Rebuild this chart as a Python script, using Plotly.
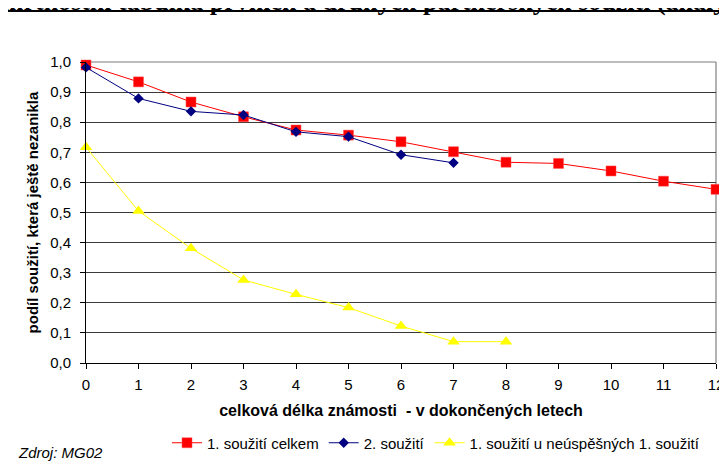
import plotly.graph_objects as go

# ---- data ----
years_total = [0, 1, 2, 3, 4, 5, 6, 7, 8, 9, 10, 11, 12]
first_total = [0.99, 0.934, 0.867, 0.818, 0.774, 0.757, 0.735, 0.702, 0.667, 0.663, 0.638, 0.604, 0.577]

years_second = [0, 1, 2, 3, 4, 5, 6, 7]
second_union = [0.982, 0.879, 0.836, 0.824, 0.768, 0.752, 0.692, 0.665]

years_failed = [0, 1, 2, 3, 4, 5, 6, 7, 8]
first_failed = [0.717, 0.505, 0.381, 0.276, 0.228, 0.184, 0.123, 0.071, 0.071]

series_names = ["1. soužití celkem", "2. soužití", "1. soužití u neúspěšných 1. soužití"]
x_ticks = list(range(0, 13))
y_ticks = [round(i * 0.1, 1) for i in range(0, 11)]

title_text = "Úmrtnostní tabulka prvních a druhých partnerských soužití (analýza přežití)"
x_title = "celková délka známosti  - v dokončených letech"
y_title = "podíl soužití, která ještě nezanikla"
source_text = "Zdroj: MG02"

# ---- layout geometry ----
# the page body adds an 8 px offset; margins compensate so the plot area
# lands at screen x 86..716, y 62..363
OFF = 8
W, H = 727, 461
PW, PH = 630, 301
L, T = 86 - OFF, 62 - OFF
R, B = W - L - PW, H - T - PH


def px_x(p):  # screen pixel -> paper x
    return (p - OFF - L) / PW


def px_y(p):  # screen pixel -> paper y
    return (T + PH - (p - OFF)) / PH


FONT = "Liberation Sans, Arial, sans-serif"

fig = go.Figure()
fig.add_trace(go.Scatter(
    x=years_total, y=first_total, name=series_names[0], mode="lines+markers",
    line=dict(color="#FF0000", width=1),
    marker=dict(symbol="square", size=10, color="#FF0000", line=dict(color="#FF5050", width=0.5)),
    cliponaxis=False,
))
fig.add_trace(go.Scatter(
    x=years_second, y=second_union, name=series_names[1], mode="lines+markers",
    line=dict(color="#000080", width=1),
    marker=dict(symbol="diamond", size=8, color="#000080"),
    cliponaxis=False,
))
fig.add_trace(go.Scatter(
    x=years_failed, y=first_failed, name=series_names[2], mode="lines+markers",
    line=dict(color="#FFFF00", width=1),
    marker=dict(symbol="triangle-up", size=11, color="#FFFF00"),
    cliponaxis=False,
))

fig.update_layout(
    width=W, height=H,
    margin=dict(l=L, r=R, t=T, b=B, autoexpand=False),
    paper_bgcolor="white", plot_bgcolor="white",
    separators=", ",
    font=dict(family=FONT, size=15, color="black"),
    showlegend=True,
    legend=dict(
        orientation="h", x=px_x(167), xanchor="left", y=px_y(443), yanchor="middle",
        font=dict(family=FONT, size=15, color="black"), bgcolor="rgba(0,0,0,0)",
        itemwidth=30, tracegroupgap=0,
    ),
    xaxis=dict(
        range=[0, 12], tickmode="array", tickvals=x_ticks, ticktext=[str(v) for v in x_ticks],
        showgrid=False, zeroline=False, showline=True, linecolor="black", linewidth=1,
        ticks="outside", ticklen=5, tickcolor="black", tickwidth=1,
        tickfont=dict(family=FONT, size=15, color="black"), ticklabelstandoff=3,
        title=dict(text="<b>" + x_title + "</b>", font=dict(family=FONT, size=16, color="black"), standoff=12),
        automargin=False,
    ),
    yaxis=dict(
        range=[0, 1], tickmode="array", tickvals=y_ticks, tickformat=".1f",
        showgrid=True, gridcolor="#3a3a3a", gridwidth=1,
        zeroline=False, showline=True, linecolor="black", linewidth=1,
        ticks="outside", ticklen=5, tickcolor="black", tickwidth=1,
        tickfont=dict(family=FONT, size=15, color="black"), ticklabelstandoff=6,
        title=dict(text="<b>" + y_title + "</b>", font=dict(family=FONT, size=15, color="black"), standoff=7),
        automargin=False,
    ),
    shapes=[
        # outer chart frame (extends beyond the picture)
        dict(type="rect", xref="paper", yref="paper", x0=px_x(7), x1=px_x(900), y0=px_y(600), y1=px_y(11),
             line=dict(color="black", width=2), fillcolor="rgba(0,0,0,0)", layer="below"),
        # grey plot-area border top/right
        dict(type="line", xref="paper", yref="paper", x0=1, x1=1, y0=0, y1=1,
             line=dict(color="#9a9a9a", width=1.5), layer="below"),
        dict(type="line", xref="paper", yref="paper", x0=0, x1=1, y0=1, y1=1,
             line=dict(color="#7a7a7a", width=1), layer="below"),
    ],
    annotations=[
        dict(text="<b>" + title_text + "</b>", xref="paper", yref="paper",
             x=px_x(-19), xanchor="left", y=px_y(18), yanchor="bottom", showarrow=False,
             font=dict(family="Liberation Serif, Times New Roman, serif", size=26, color="black")),
        dict(text="<i>" + source_text + "</i>", xref="paper", yref="paper",
             x=px_x(16), xanchor="left", y=px_y(452), yanchor="middle", showarrow=False,
             font=dict(family=FONT, size=15, color="black")),
    ],
)

fig.write_html("out.html")
